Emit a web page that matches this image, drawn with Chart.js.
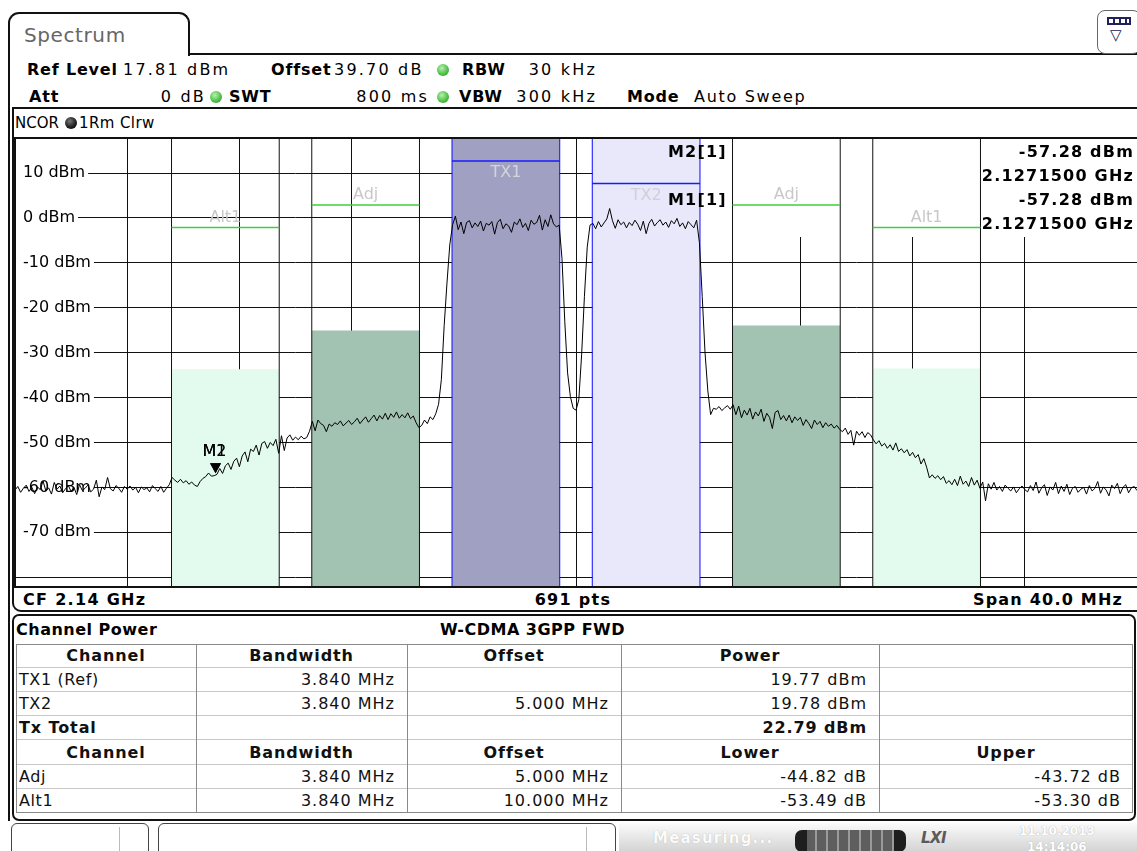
<!DOCTYPE html>
<html>
<head>
<meta charset="utf-8">
<title>Spectrum – Channel Power</title>
<script src="https://cdn.jsdelivr.net/npm/chart.js@4.4.1/dist/chart.umd.min.js"></script>
<style>
  html, body { margin: 0; padding: 0; background: #fff; }
  body { width: 1137px; height: 851px; position: relative; overflow: hidden;
         font-family: "DejaVu Sans", Verdana, sans-serif; color: #000; }
  .t { position: absolute; white-space: nowrap; font-size: 16px; line-height: 18px; }
  .b { font-weight: bold; letter-spacing: 0.8px; }
  .n { letter-spacing: 2.2px; }
  .r { text-align: right; }
  .c { text-align: center; }
  .dot { position: absolute; width: 12px; height: 12px; border-radius: 50%;
         background: radial-gradient(circle at 40% 35%, #b8f0b0 0%, #52c24a 55%, #2d8a2a 100%); }
  .dot.k { background: radial-gradient(circle at 40% 35%, #777 0%, #222 55%, #000 100%); }
  .line { position: absolute; background: #111; }
  #plotWrap { position: absolute; left: 15px; top: 138px; width: 1122px; height: 449px; }
  #plotBorder { position: absolute; left: 14px; top: 137px; width: 1124px; height: 451px;
                border-top: 2px solid #111; border-left: 2px solid #111; border-bottom: 2px solid #111;
                box-sizing: border-box; pointer-events: none; }
  .mk { position: absolute; white-space: nowrap; font-size: 16px; line-height: 18px; font-weight: bold;
        letter-spacing: 1.2px; }
  .mk.v { background: #fff; text-align: right; }
  .cell { position: absolute; font-size: 16px; white-space: nowrap; overflow: hidden; color: #111; }
</style>
</head>
<body>

<!-- tab -->
<div style="position:absolute;left:8px;top:12px;width:182px;height:44px;border:2px solid #111;border-bottom:none;border-radius:11px 11px 0 0;box-sizing:border-box;"></div>
<div class="t" style="left:24px;top:24px;font-size:20px;line-height:22px;color:#666;letter-spacing:0.6px;">Spectrum</div>
<div class="line" style="left:188px;top:53px;width:949px;height:2px;"></div>
<div class="line" style="left:8px;top:54px;width:2px;height:767px;"></div>

<!-- window icon -->
<div style="position:absolute;left:1097px;top:10px;width:44px;height:44px;border:1.5px solid #666;border-radius:8px;box-sizing:border-box;background:#fff;"></div>
<div style="position:absolute;left:1107px;top:17px;width:24px;height:8px;border:2px solid #20205a;box-sizing:border-box;background:repeating-linear-gradient(90deg,#fff 0 4px,#20205a 4px 6px);"></div>
<div class="t" style="left:1110px;top:26px;font-size:15px;color:#20205a;">▽</div>

<!-- setting rows -->
<div class="t b" style="left:27px;top:61px;">Ref Level</div>
<div class="t n" style="left:123px;top:61px;">17.81 dBm</div>
<div class="t b" style="left:271px;top:61px;">Offset</div>
<div class="t n" style="left:334px;top:61px;">39.70 dB</div>
<div class="dot" style="left:437px;top:64px;"></div>
<div class="t b" style="left:462px;top:61px;">RBW</div>
<div class="t r n" style="left:495px;width:102px;top:61px;">30 kHz</div>

<div class="t b" style="left:29px;top:88px;">Att</div>
<div class="t r n" style="left:120px;width:86px;top:88px;">0 dB</div>
<div class="dot" style="left:210px;top:91px;"></div>
<div class="t b" style="left:229px;top:88px;">SWT</div>
<div class="t r n" style="left:320px;width:109px;top:88px;">800 ms</div>
<div class="dot" style="left:437px;top:91px;"></div>
<div class="t b" style="left:459px;top:88px;">VBW</div>
<div class="t r n" style="left:495px;width:102px;top:88px;">300 kHz</div>
<div class="t b" style="left:627px;top:88px;">Mode</div>
<div class="t" style="left:694px;top:88px;letter-spacing:1.7px;">Auto Sweep</div>

<!-- diagram window frame -->
<div style="position:absolute;left:12px;top:107px;width:1140px;height:505px;border:2px solid #111;border-radius:0 9px 9px 9px;box-sizing:border-box;"></div>
<div class="t" style="left:15px;top:114px;font-size:15px;">NCOR</div>
<div class="dot k" style="left:65px;top:117px;"></div>
<div class="t" style="left:79px;top:114px;font-size:15px;letter-spacing:0.4px;">1Rm Clrw</div>

<div id="plotWrap"><canvas id="spec" width="1122" height="449"></canvas></div>
<div id="plotBorder"></div>
<div id="markerInfo"></div>

<div class="t" style="left:23px;top:591px;font-weight:bold;letter-spacing:1.3px;">CF 2.14 GHz</div>
<div class="t c" style="left:473px;width:200px;top:591px;font-weight:bold;letter-spacing:1.3px;">691 pts</div>
<div class="t r" style="left:880px;width:243px;top:591px;font-weight:bold;letter-spacing:1.2px;">Span 40.0 MHz</div>

<!-- result table panel -->
<div style="position:absolute;left:12px;top:614px;width:1124px;height:207px;border:2px solid #111;border-radius:7px;box-sizing:border-box;"></div>
<div class="t" style="left:16px;top:621px;font-weight:bold;letter-spacing:0.5px;">Channel Power</div>
<div class="t r" style="left:400px;width:225px;top:621px;font-weight:bold;letter-spacing:0.5px;">W-CDMA 3GPP FWD</div>
<div id="table"></div>

<!-- status bar -->
<div style="position:absolute;left:11px;top:823px;width:138px;height:40px;border:1.5px solid #444;border-radius:6px;box-sizing:border-box;"></div>
<div style="position:absolute;left:119px;top:827px;width:1px;height:30px;background:#bbb;"></div>
<div style="position:absolute;left:158px;top:823px;width:458px;height:40px;border:1.5px solid #444;border-radius:6px;box-sizing:border-box;"></div>
<div style="position:absolute;left:586px;top:827px;width:1px;height:30px;background:#bbb;"></div>
<div style="position:absolute;left:619px;top:823px;width:518px;height:28px;background:linear-gradient(#fbfbfb,#d4d4d4);"></div>
<div class="t" style="left:653px;top:829px;font-size:15px;font-weight:bold;color:#fbfbfb;letter-spacing:1.2px;text-shadow:0 0 1px #aaa;">Measuring...</div>
<div style="position:absolute;left:795px;top:830px;width:111px;height:22px;border-radius:7px;background:linear-gradient(90deg,#1e1e1e 0 12px,transparent 12px calc(100% - 12px),#1e1e1e calc(100% - 12px)),repeating-linear-gradient(90deg,#5e5e5e 0 9px,#9a9a9a 9px 11px);"></div>
<div class="t" style="left:921px;top:829px;font-size:15px;font-weight:bold;font-style:italic;color:#5a5a5a;letter-spacing:-0.5px;">LXI</div>
<div class="t" style="left:1019px;top:824px;font-size:12px;line-height:14px;font-weight:bold;color:#fff;text-shadow:0 0 1px #999;">11.10.2013</div>
<div class="t" style="left:1027px;top:840px;font-size:12px;line-height:14px;font-weight:bold;color:#fff;text-shadow:0 0 1px #999;">14:14:06</div>

<script>
// ---- sweep settings ----
const refLevelDbm = 17.81;
const displayRangeDb = 100;
const sweepStartMHz = 2120;
const sweepStopMHz = 2160;
const traceStepMHz = 0.1;

// ---- trace 1 (Clrw, RMS), one value per 100 kHz from 2120 MHz ----
const traceDbm = [
  -60.6,-59.8,-61.1,-60.2,-59.5,-60.9,-60.0,-61.4,-59.9,-60.5,
  -58.6,-60.8,-60.1,-61.5,-58.9,-60.4,-59.7,-61.2,-60.3,-59.6,
  -60.9,-60.0,-61.6,-59.4,-60.7,-60.2,-59.5,-61.0,-60.4,-58.4,
  -62.1,-59.9,-60.5,-57.8,-60.3,-60.8,-59.6,-60.2,-61.1,-59.8,
  -60.4,-59.7,-60.6,-60.0,-61.2,-59.9,-60.5,-60.1,-61.0,-59.6,
  -60.3,-60.9,-59.8,-61.1,-60.2,-59.4,-57.8,-58.4,-58.9,-58.2,
  -59.0,-58.5,-59.3,-58.8,-59.5,-59.8,-58.7,-58.0,-57.6,-56.8,
  -57.5,-57.4,-57.1,-55.8,-56.9,-55.2,-54.6,-56.0,-54.2,-53.5,
  -55.4,-53.0,-52.1,-54.3,-51.5,-52.0,-50.6,-52.8,-50.2,-49.8,
  -51.3,-50.0,-50.7,-49.3,-52.4,-48.5,-51.8,-49.0,-48.3,-49.5,
  -48.8,-49.4,-48.6,-49.2,-48.9,-47.5,-45.3,-47.4,-45.0,-45.8,
  -46.2,-47.6,-45.9,-46.4,-45.6,-46.0,-45.2,-46.3,-45.7,-45.1,
  -46.0,-45.4,-44.6,-45.8,-45.0,-44.3,-45.5,-44.7,-43.9,-45.2,
  -44.0,-44.8,-43.5,-44.9,-43.6,-44.4,-43.2,-44.6,-43.8,-44.5,
  -43.4,-44.7,-44.1,-45.6,-46.7,-46.2,-45.0,-45.8,-44.3,-44.9,
  -43.6,-41.5,-36.0,-24.0,-14.5,-6.0,-1.5,0.4,-2.6,-0.9,
  -3.5,-1.0,-0.6,-2.2,-1.1,-1.9,-0.7,-2.9,-1.2,-1.6,
  -0.8,-3.6,-1.0,-0.3,-2.4,-1.3,-1.8,-3.2,-0.9,-1.5,
  -0.2,-2.1,-1.2,-2.8,-0.5,-1.4,-1.0,0.6,-2.7,-0.4,
  -1.9,0.7,-1.3,-2.0,-1.6,-9.0,-23.0,-34.5,-39.8,-42.4,
  -42.8,-40.5,-30.5,-17.5,-6.5,-1.6,-1.2,-2.4,-0.8,-2.0,
  -1.1,-0.2,2.1,-0.6,-2.3,-0.4,-1.5,-0.9,-2.2,-1.0,
  -1.7,-0.5,-1.4,-2.8,-0.7,-3.5,-1.2,-0.3,-1.8,-1.0,
  -0.4,-1.6,-0.9,-2.1,-0.6,-1.3,-0.1,-1.9,-1.1,-2.4,
  -0.8,-1.5,-2.2,-0.5,-5.5,-17.5,-30.0,-38.5,-43.8,-42.4,
  -42.6,-42.0,-42.9,-42.3,-41.8,-42.6,-41.6,-43.8,-41.9,-44.5,
  -42.8,-43.9,-42.4,-44.8,-43.2,-44.1,-42.6,-45.3,-43.5,-44.4,
  -46.9,-43.3,-42.9,-44.9,-44.0,-45.2,-43.9,-45.6,-44.3,-45.1,
  -44.4,-46.2,-44.9,-45.8,-46.9,-45.0,-46.0,-45.3,-46.7,-45.6,
  -46.4,-45.9,-46.8,-46.2,-47.1,-47.6,-46.8,-48.2,-47.3,-50.6,
  -47.5,-48.4,-47.6,-48.9,-47.8,-48.3,-49.4,-50.3,-49.6,-50.8,
  -50.2,-51.3,-50.5,-51.7,-50.1,-52.0,-51.4,-52.3,-51.6,-53.0,
  -52.2,-53.4,-52.7,-54.8,-53.6,-55.5,-57.9,-57.2,-58.0,-57.4,
  -58.3,-57.6,-59.1,-58.5,-59.4,-58.2,-59.6,-57.5,-59.3,-58.6,
  -59.8,-57.8,-59.5,-58.4,-60.2,-58.8,-63.0,-59.2,-60.4,-58.9,
  -60.6,-59.8,-60.9,-59.5,-60.2,-60.8,-59.9,-61.2,-60.3,-59.7,
  -60.5,-61.0,-59.6,-60.7,-58.8,-61.3,-60.1,-59.4,-61.8,-59.9,
  -60.6,-58.9,-61.4,-59.7,-60.9,-59.3,-61.6,-60.2,-59.8,-61.1,
  -60.4,-60.0,-61.5,-59.6,-60.8,-60.2,-58.7,-61.3,-59.9,-60.6,
  -61.9,-59.5,-60.3,-59.1,-61.4,-60.0,-59.4,-61.2,-60.1,-59.8,
  -60.7
];

// ---- axes ----
const yGridDbm = [10, 0, -10, -20, -30, -40, -50, -60, -70, -80];
const yLabelDbm = [10, 0, -10, -20, -30, -40, -50, -60, -70];
const xGridMHz = [2120, 2124, 2128, 2132, 2136, 2140, 2144, 2148, 2152, 2156, 2160];

// ---- channel power results (W-CDMA 3GPP FWD) ----
const txNames = ['TX1 (Ref)', 'TX2'];
const txBandwidth = ['3.840 MHz', '3.840 MHz'];
const txOffset = ['', '5.000 MHz'];
const txPowerDbm = [19.77, 19.78];
const txTotalDbm = 22.79;
const adjNames = ['Adj', 'Alt1'];
const adjBandwidth = ['3.840 MHz', '3.840 MHz'];
const adjOffset = ['5.000 MHz', '10.000 MHz'];
const adjLowerDb = [-44.82, -53.49];
const adjUpperDb = [-43.72, -53.30];

// ---- channel layout in the diagram ----
const channelNames = ['Alt1', 'Adj', 'TX1', 'TX2', 'Adj', 'Alt1'];
const channelKinds = ['alt', 'adj', 'tx1', 'tx2', 'adj', 'alt'];
const channelCenterMHz = [2127.5, 2132.5, 2137.5, 2142.5, 2147.5, 2152.5];
const channelBwMHz = 3.84;
const channelLineDbm = [-2.1, 2.9, 12.7, 7.7, 2.9, -2.1];

// ---- markers ----
const markerNames = ['M1', 'M2'];
const markerMHz = [2127.15, 2127.15];
const markerDbm = [-57.28, -57.28];

// channel bar level: TX channels show their own power, neighbours the ACLR relative to TX1
const channelBarDbm = [
  txPowerDbm[0] + adjLowerDb[1],
  txPowerDbm[0] + adjLowerDb[0],
  txPowerDbm[0],
  txPowerDbm[1],
  txPowerDbm[0] + adjUpperDb[0],
  txPowerDbm[0] + adjUpperDb[1]
];

const yMax = refLevelDbm;
const yMin = refLevelDbm - displayRangeDb;

const kindStyle = {
  tx1: { fill: '#a0a0c2', edge: '#0a0aff', level: '#1a1aff', levelWidth: 1.5, label: '#d4d4dc', labelBelow: true },
  tx2: { fill: '#e8e8fa', edge: '#0a0aff', level: '#1a1aff', levelWidth: 1.5, label: '#cfcfd8', labelBelow: true },
  adj: { fill: '#a2c2b2', edge: '#111111', level: '#3cd03c', levelWidth: 1.5, label: '#c8c8c8', labelBelow: false },
  alt: { fill: '#e3faef', edge: '#111111', level: '#3cd03c', levelWidth: 1.5, label: '#c8c8c8', labelBelow: false }
};

const datasets = [];
channelNames.forEach((name, i) => {
  const st = kindStyle[channelKinds[i]];
  const lo = channelCenterMHz[i] - channelBwMHz / 2;
  const hi = channelCenterMHz[i] + channelBwMHz / 2;
  datasets.push({
    label: name + ' power', data: [{ x: lo, y: channelBarDbm[i] }, { x: hi, y: channelBarDbm[i] }],
    fill: 'start', backgroundColor: st.fill, borderWidth: 0, pointRadius: 0, order: 20
  });
  datasets.push({
    label: name + ' edges',
    data: [{ x: lo, y: yMin }, { x: lo, y: yMax }, { x: lo, y: null }, { x: hi, y: yMin }, { x: hi, y: yMax }],
    borderColor: st.edge, borderWidth: 1, pointRadius: 0, fill: false, spanGaps: false, order: 15
  });
  datasets.push({
    label: name + ' level', data: [{ x: lo, y: channelLineDbm[i] }, { x: hi, y: channelLineDbm[i] }],
    borderColor: st.level, borderWidth: st.levelWidth, pointRadius: 0, fill: false, order: 12
  });
});
datasets.push({
  label: 'Trace 1',
  data: traceDbm.map((v, i) => ({ x: sweepStartMHz + i * traceStepMHz, y: v })),
  borderColor: '#000', borderWidth: 1, pointRadius: 0, fill: false, tension: 0, order: 1
});

// white area reserved for the marker readout (hides the grid there)
const markerAreaPlugin = {
  id: 'markerArea',
  beforeDatasetsDraw(chart) {
    const { ctx, chartArea } = chart;
    ctx.save();
    ctx.fillStyle = '#fff';
    ctx.fillRect(650, chartArea.top, chartArea.right - 650, 99);
    ctx.restore();
  }
};

// channel names and marker symbols
const annotatePlugin = {
  id: 'annotate',
  afterDatasetsDraw(chart) {
    const { ctx, scales: { x, y } } = chart;
    ctx.save();
    ctx.font = '16px "DejaVu Sans"';
    ctx.textAlign = 'center';
    ctx.textBaseline = 'middle';
    channelNames.forEach((name, i) => {
      const st = kindStyle[channelKinds[i]];
      const py = y.getPixelForValue(channelLineDbm[i]);
      ctx.fillStyle = st.label;
      ctx.fillText(name, x.getPixelForValue(channelCenterMHz[i]), st.labelBelow ? py + 12 : py - 10);
    });
    markerNames.forEach((name, i) => {
      const px = x.getPixelForValue(markerMHz[i]);
      const py = y.getPixelForValue(markerDbm[i]);
      ctx.fillStyle = '#000';
      ctx.beginPath();
      ctx.moveTo(px - 5.5, py - 12);
      ctx.lineTo(px + 5.5, py - 12);
      ctx.lineTo(px, py - 2);
      ctx.closePath();
      ctx.fill();
      ctx.font = '16px "DejaVu Sans"';
      ctx.fillText(name, px - 1, py - 23);
    });
    ctx.restore();
  }
};

// the diagram fills the whole canvas: no room kept for axis labels
const noPadding = s => { s.paddingTop = 0; s.paddingBottom = 0; s.paddingLeft = 0; s.paddingRight = 0; };
const hasLabel = v => yLabelDbm.includes(v);

new Chart(document.getElementById('spec'), {
  type: 'line',
  data: { datasets },
  options: {
    responsive: false,
    animation: false,
    events: [],
    layout: { padding: 0 },
    plugins: { legend: { display: false }, tooltip: { enabled: false } },
    scales: {
      x: {
        type: 'linear', min: sweepStartMHz, max: sweepStopMHz,
        afterBuildTicks: s => { s.ticks = xGridMHz.map(v => ({ value: v })); },
        afterFit: s => { s.height = 0; noPadding(s); },
        ticks: { display: false },
        grid: { color: '#111', lineWidth: 1, drawTicks: false },
        border: { display: false }
      },
      y: {
        type: 'linear', min: yMin, max: yMax,
        afterBuildTicks: s => { s.ticks = yGridDbm.map(v => ({ value: v })); },
        afterFit: s => { s.width = 0; noPadding(s); },
        ticks: {
          mirror: true, padding: 8, color: '#000',
          font: { family: 'DejaVu Sans', size: 16 },
          callback: v => hasLabel(v) ? v + ' dBm' : '',
          showLabelBackdrop: c => !!(c.tick && hasLabel(c.tick.value)),
          backdropColor: '#fff',
          backdropPadding: { left: 8, right: 3, top: 2, bottom: 2 }
        },
        grid: { color: '#111', lineWidth: 1, drawTicks: false },
        border: { display: false }
      }
    }
  },
  plugins: [markerAreaPlugin, annotatePlugin]
});

// marker readout, top right of the diagram
(function () {
  const box = document.getElementById('markerInfo');
  const order = [1, 0];
  let html = '';
  order.forEach((m, k) => {
    const top = 143 + k * 48;
    html += '<div class="mk" style="left:668px;top:' + top + 'px;">' + markerNames[m] + '[1]</div>';
    html += '<div class="mk v" style="right:3px;top:' + top + 'px;">' + markerDbm[m].toFixed(2) + ' dBm</div>';
    html += '<div class="mk v" style="right:3px;top:' + (top + 24) + 'px;">' + (markerMHz[m] / 1000).toFixed(7) + ' GHz</div>';
  });
  box.innerHTML = html;
})();

// channel power table
(function () {
  const colEdges = [16, 196, 407, 621, 879, 1133];
  const rowEdges = [644, 668, 692, 716, 740, 765, 789, 813];
  const rows = [
    { cells: ['Channel', 'Bandwidth', 'Offset', 'Power', ''], head: true },
    { cells: [txNames[0], txBandwidth[0], txOffset[0], txPowerDbm[0].toFixed(2) + ' dBm', ''] },
    { cells: [txNames[1], txBandwidth[1], txOffset[1], txPowerDbm[1].toFixed(2) + ' dBm', ''] },
    { cells: ['Tx Total', '', '', txTotalDbm.toFixed(2) + ' dBm', ''], total: true },
    { cells: ['Channel', 'Bandwidth', 'Offset', 'Lower', 'Upper'], head: true },
    { cells: [adjNames[0], adjBandwidth[0], adjOffset[0], adjLowerDb[0].toFixed(2) + ' dB', adjUpperDb[0].toFixed(2) + ' dB'] },
    { cells: [adjNames[1], adjBandwidth[1], adjOffset[1], adjLowerDb[1].toFixed(2) + ' dB', adjUpperDb[1].toFixed(2) + ' dB'] }
  ];
  let html = '';
  rows.forEach((row, r) => {
    const top = rowEdges[r], h = rowEdges[r + 1] - rowEdges[r];
    html += '<div style="position:absolute;left:' + colEdges[0] + 'px;top:' + (top + h - 1) + 'px;width:' +
      (colEdges[5] - colEdges[0]) + 'px;height:1px;background:#c8c8c8;"></div>';
    row.cells.forEach((txt, c) => {
      const left = colEdges[c], w = colEdges[c + 1] - colEdges[c];
      let align = 'right', weight = 'normal', pad = 'padding-right:12px;', ls = '1px';
      if (row.head) { align = 'center'; weight = 'bold'; pad = ''; ls = '0.9px'; }
      else if (c === 0) { align = 'left'; pad = 'padding-left:3px;'; ls = '0.6px'; }
      if (row.total && (c === 0 || c === 3)) { weight = 'bold'; ls = '0.9px'; }
      html += '<div class="cell" style="left:' + left + 'px;top:' + top + 'px;width:' + w + 'px;height:' + h +
        'px;line-height:' + h + 'px;text-align:' + align + ';font-weight:' + weight + ';box-sizing:border-box;' + pad +
        'letter-spacing:' + ls + ';">' + txt + '</div>';
    });
  });
  [1, 2, 3, 4].forEach(c => {
    html += '<div style="position:absolute;left:' + colEdges[c] + 'px;top:' + rowEdges[0] + 'px;width:1px;height:' +
      (rowEdges[7] - rowEdges[0]) + 'px;background:#8a8a8a;"></div>';
  });
  html += '<div style="position:absolute;left:' + colEdges[0] + 'px;top:' + rowEdges[0] + 'px;width:' +
    (colEdges[5] - colEdges[0]) + 'px;height:' + (rowEdges[7] - rowEdges[0]) + 'px;border:1px solid #8a8a8a;box-sizing:border-box;"></div>';
  document.getElementById('table').innerHTML = html;
})();
</script>
</body>
</html>
